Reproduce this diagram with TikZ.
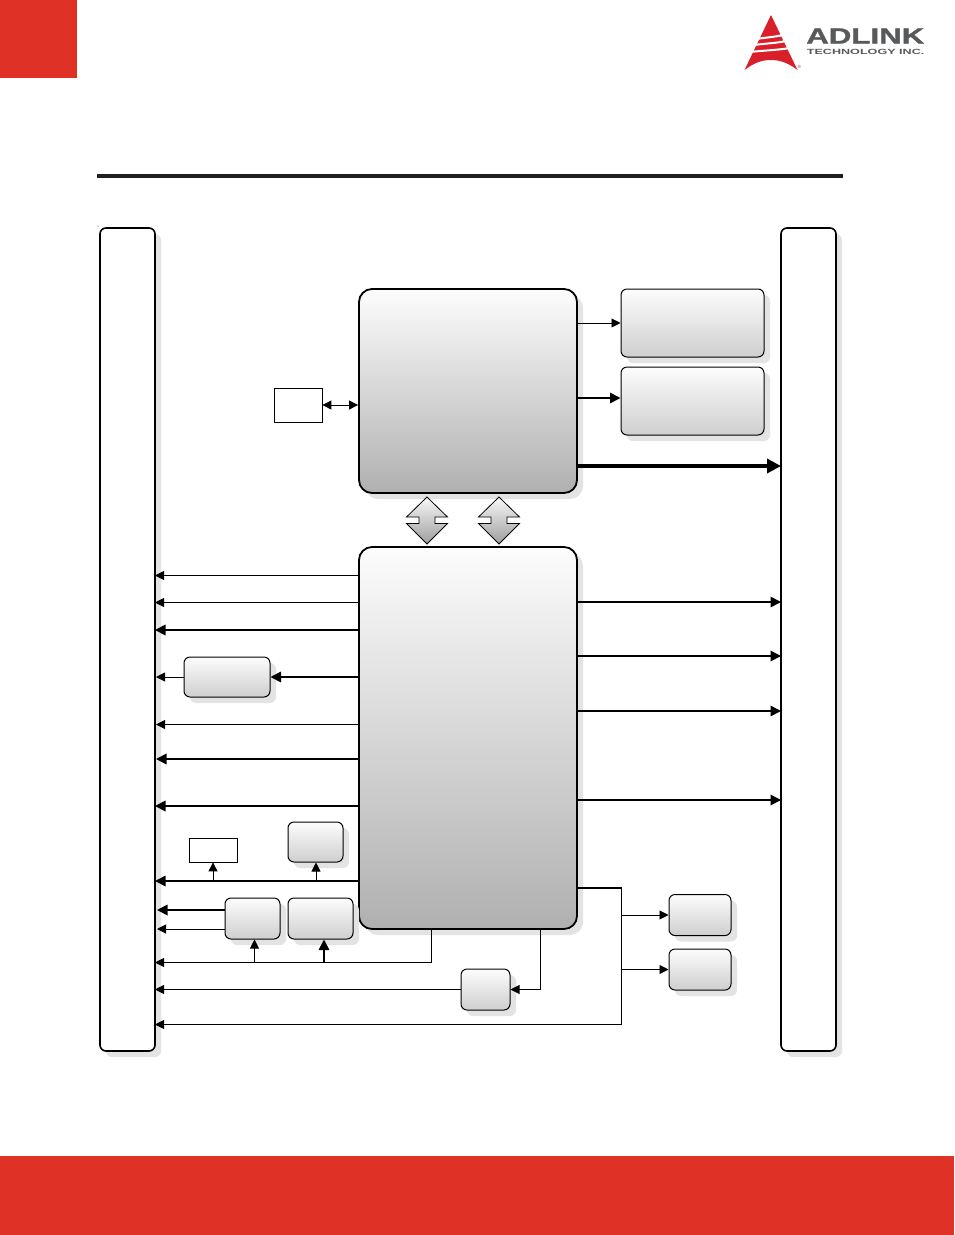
\documentclass[tikz,border=0pt]{standalone}
\usepackage{xcolor}
\usepackage{fontspec}
\setmainfont{Liberation Sans}
\newfontfamily\logofont[BoldFeatures={FakeBold=1.2}]{Liberation Sans}
\usetikzlibrary{arrows.meta, shadows}
\definecolor{bannerred}{HTML}{E03126}
\definecolor{logored}{HTML}{D81F2A}
\definecolor{logogray}{HTML}{58595B}
\definecolor{rulecol}{HTML}{231F20}
\definecolor{shadowgray}{HTML}{E3E3E3}
\tikzset{
  flatshadow/.style={drop shadow={shadow xshift=6pt,shadow yshift=-6pt,fill=shadowgray,opacity=1}},
  busbox/.style={draw,line width=1.6pt,rounded corners=6pt,fill=white,inner sep=0pt,outer sep=0pt,flatshadow},
  chipbox/.style={draw,line width=1.8pt,rounded corners=13pt,top color=black!1,bottom color=black!31,inner sep=0pt,flatshadow},
  partbox/.style={draw,line width=1pt,rounded corners=6pt,top color=black!1,bottom color=black!19,inner sep=0pt,flatshadow},
  plainbox/.style={draw,line width=0.8pt,fill=white,inner sep=0pt},
  thinline/.style={line width=0.9pt,-{Triangle[length=9pt,width=9pt]}},
  midline/.style={line width=1.7pt,-{Triangle[length=10.5pt,width=10.5pt]}},
  fatline/.style={line width=3.4pt,-{Triangle[length=14pt,width=14pt]}},
  pics/dualarrow/.style={code={
    \draw[line width=0.8pt,top color=black!3,bottom color=black!38]
      (0,-23.5) -- (20.5,-3.5) -- (8,-3.5) -- (8,3) -- (20.5,3) -- (0,23.5)
      -- (-20.5,3) -- (-8,3) -- (-8,-3.5) -- (-20.5,-3.5) -- cycle;
  }}
}
\begin{document}
\begin{tikzpicture}[x=1pt,y=-1pt]
  \useasboundingbox (0,0) rectangle (954,1235);

  % Page furniture
  \fill[bannerred] (0,0) rectangle (77,78);
  \fill[bannerred] (0,1156) rectangle (954,1235);
  \draw[rulecol,line width=3.4pt] (97,176) -- (843,176);
  \fill (98,226) circle (0.5);

  % Logo
  \fill[logored] (771,15) -- (744.5,70) .. controls (755,62) and (763,60) .. (771,60)
    .. controls (779,60) and (787,62) .. (797.5,70) -- cycle;
  \fill[white] (757,38) .. controls (765,36.5) and (775,36) .. (782,34) -- (783,36)
    .. controls (775,38) and (765,38.5) .. (757,40) -- cycle;
  \fill[white] (754,44) .. controls (765,42.5) and (778,42) .. (785,40) -- (786,42)
    .. controls (778,44) and (765,44.5) .. (754,46) -- cycle;
  \fill[white] (750,51) .. controls (763,49.5) and (779,49) .. (789,47) -- (790,49)
    .. controls (779,51) and (763,51.5) .. (750,53) -- cycle;
  \node[anchor=west,inner sep=0pt,text=logogray,font=\logofont\bfseries\fontsize{22}{22}\selectfont,xscale=1.42,transform shape] (logoname) at (806,36) {ADLINK};
  \node[anchor=west,inner sep=0pt,text=logogray,font=\bfseries\fontsize{7.5}{8}\selectfont,xscale=1.68,transform shape] (logotag) at (806.5,51.5) {TECHNOLOGY INC.};
  \node[inner sep=0pt,text=logogray,font=\fontsize{4.5}{5}\selectfont] (logomark) at (799.5,67) {®};

  % Buses at the two sides
  \node[busbox,minimum width=55pt,minimum height=823pt] (leftbus) at (127.5,639.5) {};
  \node[busbox,minimum width=55pt,minimum height=823pt] (rightbus) at (808.5,639.5) {};

  % Main chips
  \node[chipbox,minimum width=218pt,minimum height=204pt] (cpu) at (468,391) {};
  \node[chipbox,minimum width=218pt,minimum height=382pt] (hub) at (468,738) {};
  \pic at (427,520.5) {dualarrow};
  \pic at (499,520.5) {dualarrow};

  % Boxes beside the cpu
  \node[partbox,minimum width=143pt,minimum height=68pt] (dimma) at (692.5,323) {};
  \node[partbox,minimum width=143pt,minimum height=68pt] (dimmb) at (692.5,401) {};
  \node[plainbox,minimum width=48pt,minimum height=34pt] (spi) at (298,405) {};

  % Boxes beside the hub
  \node[partbox,minimum width=86pt,minimum height=40pt] (phy) at (227,677) {};
  \node[plainbox,minimum width=48pt,minimum height=24pt] (tpm) at (213,850) {};
  \node[partbox,minimum width=55pt,minimum height=40pt] (sio) at (315.5,842) {};
  \node[partbox,minimum width=55pt,minimum height=41pt] (codec) at (252.5,918.5) {};
  \node[partbox,minimum width=65pt,minimum height=41pt] (lan) at (320.5,918.5) {};
  \node[partbox,minimum width=49pt,minimum height=41pt] (mux) at (485.5,989.5) {};
  \node[partbox,minimum width=62pt,minimum height=41pt] (usba) at (700,915) {};
  \node[partbox,minimum width=62pt,minimum height=41pt] (usbb) at (700,969.5) {};

  % Lines on the cpu
  \draw[thinline,{Triangle[length=9pt,width=9pt]}-{Triangle[length=9pt,width=9pt]}] (spi.east) -- (cpu.west |- spi.east);
  \draw[thinline] (cpu.east |- 0,323) -- (dimma.west |- 0,323);
  \draw[midline] (cpu.east |- 0,398) -- (dimmb.west |- 0,398);
  \draw[fatline] (cpu.east |- 0,466) -- (rightbus.west |- 0,466);

  % Lines from the hub to the right
  \draw[midline] (hub.east |- 0,602) -- (rightbus.west |- 0,602);
  \draw[midline] (hub.east |- 0,656) -- (rightbus.west |- 0,656);
  \draw[midline] (hub.east |- 0,711) -- (rightbus.west |- 0,711);
  \draw[midline] (hub.east |- 0,800) -- (rightbus.west |- 0,800);

  % Lines from the hub to the left
  \draw[thinline] (hub.west |- 0,575.5) -- (leftbus.east |- 0,575.5);
  \draw[thinline] (hub.west |- 0,602.5) -- (leftbus.east |- 0,602.5);
  \draw[midline] (hub.west |- 0,630) -- (leftbus.east |- 0,630);
  \draw[midline] (hub.west |- phy.east) -- (phy.east);
  \draw[thinline,shorten >=1pt] (phy.west) -- (leftbus.east |- phy.west);
  \draw[thinline,shorten >=1pt] (hub.west |- 0,724.5) -- (leftbus.east |- 0,724.5);
  \draw[midline,shorten >=1pt] (hub.west |- 0,759) -- (leftbus.east |- 0,759);
  \draw[midline] (hub.west |- 0,806) -- (leftbus.east |- 0,806);
  \draw[midline] (hub.west |- 0,881) -- (leftbus.east |- 0,881);
  \draw[thinline] (tpm.south |- 0,881) -- (tpm.south);
  \draw[thinline] (316,881) -- (sio.south -| 316,0);

  % Lines under the boxes
  \draw[midline,shorten >=2pt] (codec.west |- 0,910) -- (leftbus.east |- 0,910);
  \draw[thinline,shorten >=2pt] (codec.west |- 0,929) -- (leftbus.east |- 0,929);
  \draw[thinline] (hub.south -| 431,0) |- (leftbus.east |- 0,962.5);
  \draw[thinline] (254.5,962.5) -- (codec.south -| 254.5,0);
  \draw[midline] (324,962.5) -- (lan.south -| 324,0);
  \draw[thinline] (hub.south -| 540,0) |- (mux.east);
  \draw[thinline] (mux.west) -- (leftbus.east |- mux.west);

  % Lines to the two small boxes
  \coordinate (drop) at (621.5,888);
  \draw[midline,-] (hub.east |- drop) -- (drop);
  \draw[thinline] (drop) |- (leftbus.east |- 0,1024.5);
  \draw[thinline] (drop |- usba.west) -- (usba.west);
  \draw[thinline] (drop |- usbb.west) -- (usbb.west);
\end{tikzpicture}
\end{document}
